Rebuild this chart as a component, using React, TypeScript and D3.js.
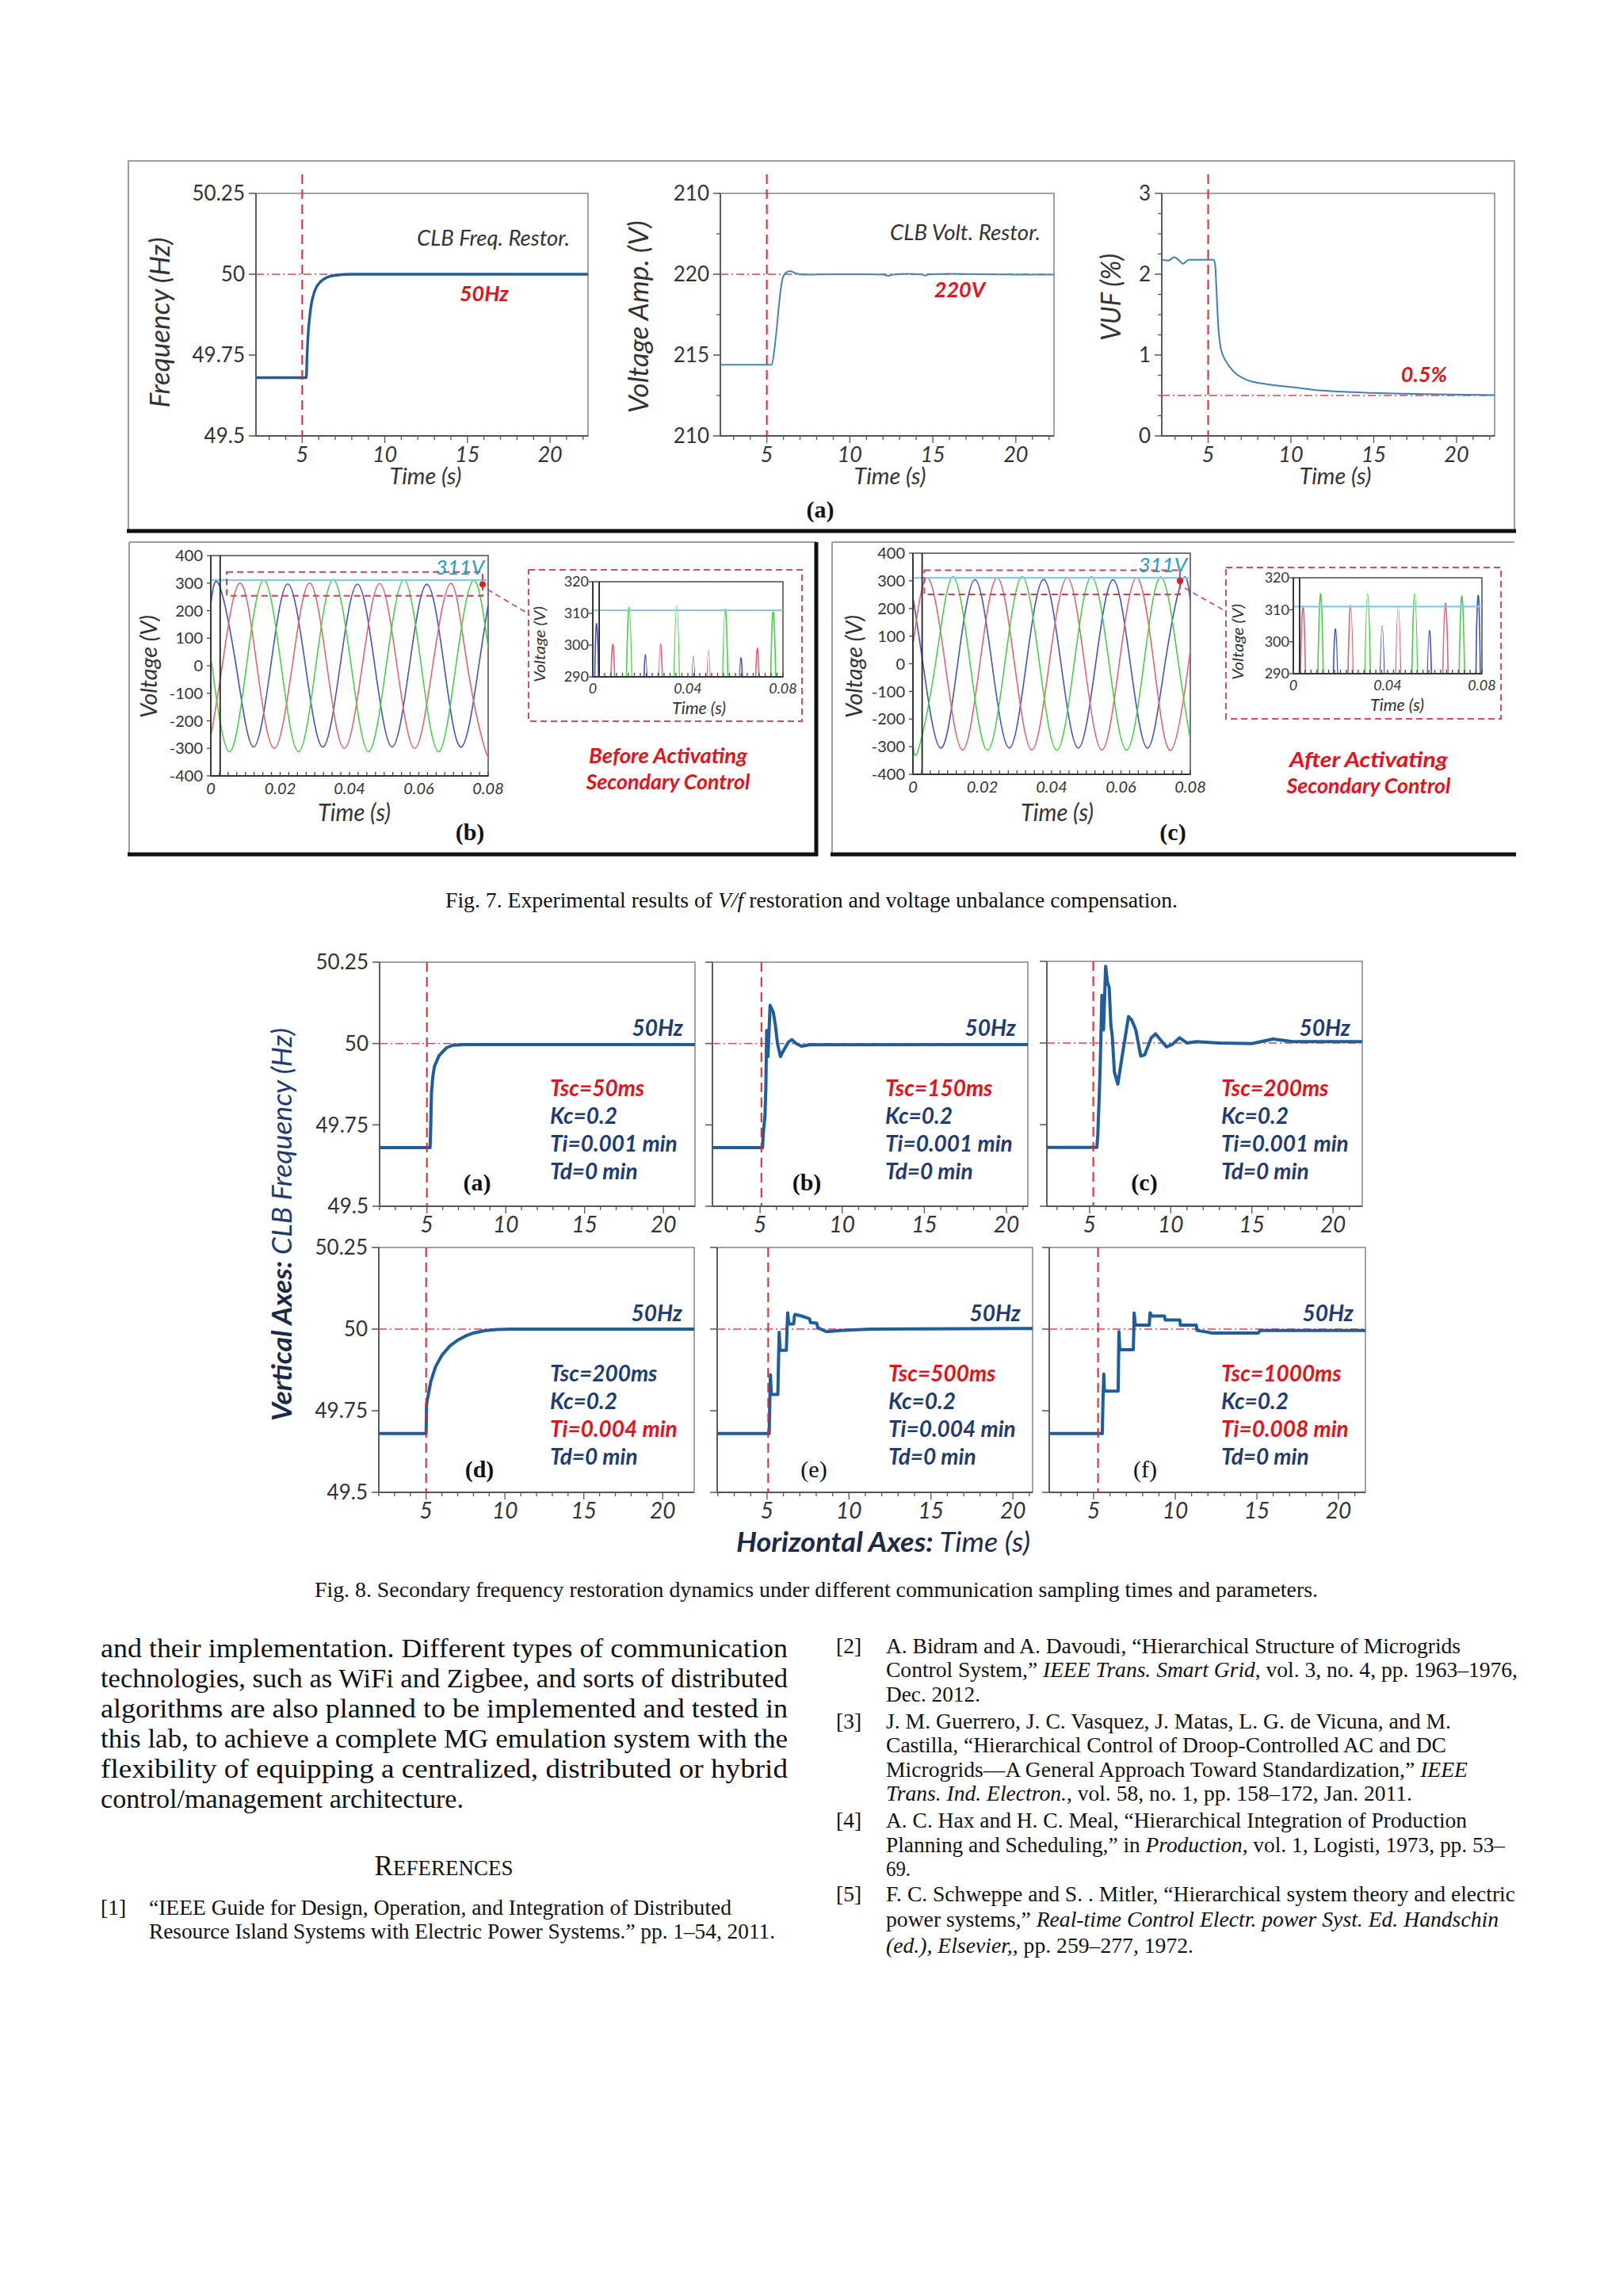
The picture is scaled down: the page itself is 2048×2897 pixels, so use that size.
import React from "react";
import * as d3 from "d3";

type Pt = [number, number];
type Seg = [string, boolean];

const W = 2048;
const H = 2897;
const SANS = "Lato, 'Open Sans', 'DejaVu Sans', sans-serif";
const SERIF = "'Liberation Serif', 'Times New Roman', serif";
const NAVY = "#1f3b73";
const RED = "#e3121b";
const TRACE = "#1f5d9c";
const phaseColors = ["#4153c2", "#e3646f", "#48d048"];

// ---------- Fig. 7(a): restoration traces ----------
const restorTimeTicks = [5, 10, 15, 20];
const freqTicks = [49.5, 49.75, 50, 50.25];
const voltTickValues = [210, 215, 220, 225];
const voltTickLabels = ["210", "215", "220", "210"];
const voltMinor = [212.5, 217.5, 222.5];
const vufTicks = [0, 1, 2, 3];
const vufMinor = [0.25, 0.5, 0.75, 1.25, 1.5, 1.75, 2.25, 2.5, 2.75];

const freqRestor: Pt[] = [
  [2.2, 49.68], [5.25, 49.68], [5.28, 49.73], [5.34, 49.8], [5.49, 49.885], [5.77, 49.95],
  [6.13, 49.978], [6.5, 49.99], [7.05, 49.997], [8, 50], [22.3, 50],
];
const voltRestor: Pt[] = [
  [2.2, 214.4], [5.3, 214.4], [5.45, 215.3], [5.6, 216.7], [5.75, 218.3], [5.9, 219.5],
  [6.1, 220.05], [6.4, 220.2], [6.75, 220.05], [7.2, 219.97], [9, 220], [11.5, 219.99],
  [12, 219.97], [12.3, 219.9], [12.6, 219.98], [13.5, 220.02], [14.3, 219.99], [14.55, 219.92],
  [14.8, 220], [16, 220.02], [18, 220], [20, 219.98], [22.3, 219.98],
];
const vufComp: Pt[] = [
  [2.2, 2.18], [2.6, 2.17], [2.94, 2.21], [3.2, 2.18], [3.47, 2.13], [3.84, 2.18], [5.33, 2.18],
  [5.42, 2.12], [5.51, 1.78], [5.6, 1.39], [5.79, 1.06], [6.06, 0.93], [6.52, 0.8], [7.25, 0.7],
  [8.53, 0.64], [10, 0.605], [11.3, 0.572], [13.1, 0.546], [14.9, 0.533], [16.8, 0.523],
  [18.7, 0.515], [20.5, 0.51], [22.3, 0.505],
];

// ---------- Fig. 7(b)(c): three-phase voltages (extrema and zero crossings) ----------
const waveTimeTicks = [0, 0.02, 0.04, 0.06, 0.08];
const waveVoltTicks = [-400, -300, -200, -100, 0, 100, 200, 300, 400];
const insetVoltTicks = [290, 300, 310, 320];
const insetTimeTicks = [0, 0.04, 0.08];

const beforeBlue: Pt[] = [
  [0, 222], [0.0023, 296], [0.0073, 0], [0.0123, -295], [0.0173, 0], [0.0222, 297], [0.0273, 0],
  [0.0323, -295], [0.0373, 0], [0.0423, 296.5], [0.0473, 0], [0.0523, -295], [0.0573, 0],
  [0.0623, 296], [0.0673, 0], [0.0723, -295], [0.0773, 0], [0.08, 222],
];
const beforeRed: Pt[] = [
  [0, -258], [0.0033, 0], [0.0083, 300], [0.0133, 0], [0.0183, -300], [0.0235, 0], [0.0285, 300.5],
  [0.0335, 0], [0.0385, -300], [0.0437, 0], [0.0487, 298.5], [0.0537, 0], [0.0588, -300],
  [0.064, 0], [0.0693, 299], [0.074, 0], [0.079, -300], [0.08, -298],
];
const beforeGreen: Pt[] = [
  [0, 30], [0.0053, -312], [0.0103, 0], [0.0153, 312], [0.0203, 0], [0.0253, -312], [0.0303, 0],
  [0.0353, 312.5], [0.0405, 0], [0.0455, -312], [0.0506, 0], [0.0557, 311.5], [0.0607, 0],
  [0.0657, -312], [0.0707, 0], [0.0757, 310], [0.08, 65],
];
const afterBlue: Pt[] = [
  [0, 240], [0.0029, 0], [0.0079, -305], [0.0129, 0], [0.0179, 304], [0.0228, 0], [0.0278, -305],
  [0.0327, 0], [0.0377, 305], [0.0427, 0], [0.0477, -305], [0.0527, 0], [0.0577, 303.5],
  [0.0627, 0], [0.0677, -305], [0.0727, 0], [0.0777, 303.5], [0.08, 228],
];
const afterRed: Pt[] = [
  [0, 67], [0.0043, 310.5], [0.0093, 0], [0.0143, -312], [0.0193, 0], [0.0243, 311.5], [0.0293, 0],
  [0.0343, -312], [0.0393, 0], [0.0445, 311], [0.0495, 0], [0.0545, -312], [0.0595, 0],
  [0.0645, 312], [0.0695, 0], [0.0745, -312], [0.0795, 0], [0.08, 49],
];
const afterGreen: Pt[] = [
  [0, -278], [0.0015, -313], [0.0065, 0], [0.0115, 315], [0.0165, 0], [0.0215, -313], [0.0265, 0],
  [0.0315, 315], [0.0365, 0], [0.0415, -313], [0.0465, 0], [0.0515, 315], [0.0566, 0],
  [0.0616, -313], [0.0666, 0], [0.0716, 314], [0.0766, 0], [0.08, -275],
];

// ---------- Fig. 8: secondary frequency restoration ----------
const f8a: Pt[] = [
  [2, 49.68], [5.2, 49.68], [5.23, 49.72], [5.29, 49.85], [5.38, 49.9], [5.48, 49.93],
  [5.77, 49.963], [6.25, 49.987], [6.64, 49.995], [7.5, 49.997], [22, 49.997],
];
const f8b: Pt[] = [
  [2.1, 49.68], [5.15, 49.68], [5.19, 49.72], [5.3, 49.78], [5.35, 49.86], [5.4, 50.04], [5.48, 49.96],
  [5.61, 50.117], [5.8, 50.097], [5.93, 50.057], [6.06, 50.0], [6.24, 49.96], [6.4, 49.976],
  [6.72, 50.004], [6.93, 50.012], [7.2, 50.0], [7.51, 49.992], [8.02, 49.996], [21.3, 49.997],
];
const f8c: Pt[] = [
  [2.37, 49.68], [5.45, 49.68], [5.51, 49.72], [5.59, 49.83], [5.65, 49.92], [5.76, 50.146],
  [5.86, 50.04], [5.99, 50.235], [6.1, 50.185], [6.21, 50.17], [6.31, 50.057], [6.4, 50.02],
  [6.53, 49.911], [6.74, 49.874], [7.06, 49.976], [7.4, 50.081], [7.6, 50.07], [7.85, 50.04],
  [8.15, 49.96], [8.4, 49.964], [8.8, 50.016], [9.07, 50.028], [9.4, 50.008], [9.74, 49.988],
  [10.1, 49.996], [10.54, 50.016], [11.0, 50.0], [11.6, 50.004], [13, 50.0], [15, 49.998],
  [16.3, 50.012], [17.5, 50.004], [21.8, 50.004],
];
const f8d: Pt[] = [
  [2, 49.68], [5.0, 49.68], [5.03, 49.77], [5.1, 49.79], [5.3, 49.84], [5.6, 49.885], [6, 49.92],
  [6.5, 49.948], [7, 49.966], [7.5, 49.979], [8, 49.988], [8.7, 49.995], [9.5, 49.999],
  [10.5, 50.0], [22, 50.0],
];
const f8e: Pt[] = [
  [1.96, 49.68], [5.13, 49.68], [5.17, 49.78], [5.21, 49.86], [5.26, 49.8], [5.66, 49.8],
  [5.7, 49.9], [5.74, 49.99], [5.8, 49.935], [6.18, 49.935], [6.22, 50.0], [6.26, 50.05],
  [6.33, 50.016], [6.63, 50.016], [6.67, 50.04], [6.71, 50.045], [7.11, 50.04], [7.59, 50.032],
  [7.65, 50.02], [8.03, 50.018], [8.1, 50.004], [8.63, 49.992], [9.48, 49.996], [11.33, 50.0],
  [21.2, 50.002],
];
const f8f: Pt[] = [
  [2.28, 49.68], [5.53, 49.68], [5.57, 49.78], [5.62, 49.862], [5.66, 49.81], [6.5, 49.81],
  [6.53, 49.92], [6.55, 49.992], [6.6, 49.937], [7.43, 49.937], [7.46, 50.0], [7.48, 50.049],
  [7.56, 50.012], [8.41, 50.012], [8.44, 50.04], [8.46, 50.05], [8.55, 50.04], [9.34, 50.04],
  [9.38, 50.028], [10.28, 50.028], [10.31, 50.012], [11.29, 50.012], [11.33, 49.996],
  [12.28, 49.988], [15.08, 49.988], [15.2, 49.996], [21.66, 49.996],
];
const f8Series = [f8a, f8b, f8c, f8d, f8e, f8f];
const f8XDomains: [number, number][] = [[2, 22], [2.1, 21.3], [2.37, 21.8], [2, 22], [1.96, 21.2], [2.28, 21.65]];
const f8Activation = [5.0, 5.08, 5.23, 5.0, 5.07, 5.27];
const f8Tags = ["(a)", "(b)", "(c)", "(d)", "(e)", "(f)"];
const f8Tsc = ["Tsc=50ms", "Tsc=150ms", "Tsc=200ms", "Tsc=200ms", "Tsc=500ms", "Tsc=1000ms"];
const f8Ti = ["Ti=0.001 min", "Ti=0.001 min", "Ti=0.001 min", "Ti=0.004 min", "Ti=0.004 min", "Ti=0.008 min"];
const f8TscRed = [true, true, true, false, true, true];
const f8TiRed = [false, false, false, true, false, true];

// ---------- page text ----------
const bodyLines = [
  "and their implementation. Different types of communication",
  "technologies, such as WiFi and Zigbee, and sorts of distributed",
  "algorithms are also planned to be implemented and tested in",
  "this lab, to achieve a complete MG emulation system with the",
  "flexibility of equipping a centralized, distributed or hybrid",
  "control/management architecture.",
];
const ref1Lines: Seg[][] = [
  [["“IEEE Guide for Design, Operation, and Integration of Distributed", false]],
  [["Resource Island Systems with Electric Power Systems.” pp. 1–54, 2011.", false]],
];
const refTags = ["[2]", "[3]", "[4]", "[5]"];
const refRight: Seg[][][] = [
  [
    [["A. Bidram and A. Davoudi, “Hierarchical Structure of Microgrids", false]],
    [["Control System,” ", false], ["IEEE Trans. Smart Grid", true], [", vol. 3, no. 4, pp. 1963–1976,", false]],
    [["Dec. 2012.", false]],
  ],
  [
    [["J. M. Guerrero, J. C. Vasquez, J. Matas, L. G. de Vicuna, and M.", false]],
    [["Castilla, “Hierarchical Control of Droop-Controlled AC and DC", false]],
    [["Microgrids—A General Approach Toward Standardization,” ", false], ["IEEE", true]],
    [["Trans. Ind. Electron.", true], [", vol. 58, no. 1, pp. 158–172, Jan. 2011.", false]],
  ],
  [
    [["A. C. Hax and H. C. Meal, “Hierarchical Integration of Production", false]],
    [["Planning and Scheduling,” in ", false], ["Production", true], [", vol. 1, Logisti, 1973, pp. 53–", false]],
    [["69.", false]],
  ],
  [
    [["F. C. Schweppe and S. . Mitler, “Hierarchical system theory and electric", false]],
    [["power systems,” ", false], ["Real-time Control Electr. power Syst. Ed. Handschin", true]],
    [["(ed.), Elsevier,", true], [", pp. 259–277, 1972.", false]],
  ],
];

type Box = [number, number, number, number];

function TimePanel(p: {
  id: string;
  box: Box;
  xDomain: [number, number];
  yDomain: [number, number];
  data: Pt[];
  yTicks: number[];
  yLabels?: string[];
  yMinor?: number[];
  xTicks: number[];
  refY: number;
  act: number;
  actTop?: number;
  stroke: string;
  width: number;
  curve?: d3.CurveFactory;
  yFont: number;
  xFont: number;
}) {
  const [l, t, r, b] = p.box;
  const x = d3.scaleLinear().domain(p.xDomain).range([l, r]);
  const y = d3.scaleLinear().domain(p.yDomain).range([b, t]);
  const line = d3
    .line<Pt>()
    .x((d) => x(d[0]))
    .y((d) => y(d[1]))
    .curve(p.curve ?? d3.curveLinear);
  const minor = d3.range(Math.ceil(p.xDomain[0]), p.xDomain[1], 1);
  return (
    <g>
      <defs>
        <clipPath id={p.id}>
          <rect x={l} y={t - 6} width={r - l} height={b - t + 12} />
        </clipPath>
      </defs>
      <rect x={l} y={t} width={r - l} height={b - t} fill="#fff" stroke="#8c8c8c" strokeWidth={1.6} />
      <line x1={l} x2={l} y1={t} y2={b} stroke="#555" strokeWidth={1.8} />
      <line x1={l} x2={r} y1={b} y2={b} stroke="#555" strokeWidth={1.8} />
      <line x1={l} x2={r} y1={y(p.refY)} y2={y(p.refY)} stroke="#e4434c" strokeWidth={1.4} strokeDasharray="10 4 2 4" />
      <path
        d={line(p.data) ?? ""}
        fill="none"
        stroke={p.stroke}
        strokeWidth={p.width}
        strokeLinejoin="round"
        clipPath={`url(#${p.id})`}
      />
      <line x1={x(p.act)} x2={x(p.act)} y1={p.actTop ?? t} y2={b} stroke="#e3242b" strokeWidth={2} strokeDasharray="12 7" />
      {p.yTicks.map((v) => (
        <line key={"yt" + v} x1={l - 9} x2={l} y1={y(v)} y2={y(v)} stroke="#555" strokeWidth={1.5} />
      ))}
      {(p.yMinor ?? []).map((v) => (
        <line key={"ym" + v} x1={l - 5} x2={l} y1={y(v)} y2={y(v)} stroke="#555" strokeWidth={1.3} />
      ))}
      {minor.map((v) => (
        <line key={"xm" + v} x1={x(v)} x2={x(v)} y1={b} y2={b + (v % 5 === 0 ? 9 : 5)} stroke="#555" strokeWidth={1.3} />
      ))}
      {p.yLabels &&
        p.yTicks.map((v, i) => (
          <text key={"yl" + v} x={l - 14} y={y(v) + p.yFont * 0.36} textAnchor="end" fontSize={p.yFont} fill="#333">
            {p.yLabels![i]}
          </text>
        ))}
      {p.xTicks.map((v) => (
        <text key={"xl" + v} x={x(v)} y={b + 33} textAnchor="middle" fontStyle="italic" fontSize={p.xFont} fill="#333">
          {v}
        </text>
      ))}
    </g>
  );
}

function WavePlot(p: {
  id: string;
  box: Box;
  yDomain: [number, number];
  series: Pt[][];
  yTicks: number[];
  xTicks: number[];
  cursor: number;
  nominal: number;
  font: number;
  yGap: number;
  xGap: number;
  children?: (x: d3.ScaleLinear<number, number>, y: d3.ScaleLinear<number, number>) => React.ReactNode;
}) {
  const [l, t, r, b] = p.box;
  const x = d3.scaleLinear().domain([0, 0.08]).range([l, r]);
  const y = d3.scaleLinear().domain(p.yDomain).range([b, t]);
  const line = d3
    .line<Pt>()
    .x((d) => x(d[0]))
    .y((d) => y(d[1]))
    .curve(d3.curveNatural);
  const minor = d3.range(0, 0.08 + 1e-9, 0.0025);
  return (
    <g>
      <defs>
        <clipPath id={p.id}>
          <rect x={l} y={t} width={r - l} height={b - t} />
        </clipPath>
      </defs>
      <rect x={l} y={t} width={r - l} height={b - t} fill="#fff" stroke="#555" strokeWidth={1.6} />
      <g clipPath={`url(#${p.id})`}>
        {p.series.map((s, i) => (
          <path key={i} d={line(s) ?? ""} fill="none" stroke={phaseColors[i]} strokeWidth={1.6} />
        ))}
        <line x1={l} x2={r} y1={y(p.nominal)} y2={y(p.nominal)} stroke="#86cbe6" strokeWidth={2.2} />
      </g>
      <line x1={x(p.cursor)} x2={x(p.cursor)} y1={t} y2={b} stroke="#222" strokeWidth={1.8} />
      <line x1={l} x2={l} y1={t} y2={b} stroke="#333" strokeWidth={1.8} />
      <line x1={l} x2={r} y1={b} y2={b} stroke="#333" strokeWidth={1.8} />
      {p.yTicks.map((v) => (
        <line key={"yt" + v} x1={l - 5} x2={l} y1={y(v)} y2={y(v)} stroke="#444" strokeWidth={1.3} />
      ))}
      {minor.map((v, i) => (
        <line key={"xm" + i} x1={x(v)} x2={x(v)} y1={b} y2={b - 5} stroke="#444" strokeWidth={1.3} />
      ))}
      {p.yTicks.map((v) => (
        <text key={"yl" + v} x={l - p.yGap} y={y(v) + p.font * 0.36} textAnchor="end" fontSize={p.font} fill="#333">
          {v}
        </text>
      ))}
      {p.xTicks.map((v) => (
        <text key={"xl" + v} x={x(v)} y={b + p.xGap} textAnchor="middle" fontStyle="italic" fontSize={p.font} fill="#333">
          {v}
        </text>
      ))}
      {p.children && p.children(x, y)}
    </g>
  );
}

function RotLabel(p: { x: number; y: number; size: number; children: React.ReactNode; len?: number; fill?: string }) {
  return (
    <text
      transform={`translate(${p.x},${p.y}) rotate(-90)`}
      textAnchor="middle"
      dominantBaseline="central"
      fontSize={p.size}
      fontStyle="italic"
      fill={p.fill ?? "#333"}
      textLength={p.len}
      lengthAdjust="spacingAndGlyphs"
    >
      {p.children}
    </text>
  );
}

function Fig7a() {
  return (
    <g>
      <TimePanel id="c71" box={[323, 244, 742, 550]} xDomain={[2.2, 22.3]} yDomain={[49.5, 50.25]} data={freqRestor}
        yTicks={freqTicks} yLabels={freqTicks.map(String)} xTicks={restorTimeTicks} refY={50} act={5} actTop={220}
        stroke={TRACE} width={3.4} curve={d3.curveMonotoneX} yFont={26} xFont={27} />
      <TimePanel id="c72" box={[909, 244, 1330, 550]} xDomain={[2.2, 22.3]} yDomain={[210, 225]} data={voltRestor}
        yTicks={voltTickValues} yLabels={voltTickLabels} yMinor={voltMinor} xTicks={restorTimeTicks} refY={220} act={5}
        actTop={220} stroke="#4784bb" width={2} curve={d3.curveMonotoneX} yFont={26} xFont={27} />
      <TimePanel id="c73" box={[1466, 244, 1886, 550]} xDomain={[2.2, 22.3]} yDomain={[0, 3]} data={vufComp}
        yTicks={vufTicks} yLabels={vufTicks.map(String)} yMinor={vufMinor} xTicks={restorTimeTicks} refY={0.5} act={5}
        actTop={220} stroke="#3f7fb8" width={2} curve={d3.curveMonotoneX} yFont={26} xFont={27} />
      <RotLabel x={200} y={407} size={35} len={215}>Frequency (Hz)</RotLabel>
      <RotLabel x={804} y={400} size={35} len={243}>Voltage Amp. (V)</RotLabel>
      <RotLabel x={1400} y={375} size={35} len={110}>VUF (%)</RotLabel>
      {[537, 1123, 1685].map((cx) => (
        <text key={cx} x={cx} y={611} textAnchor="middle" fontStyle="italic" fontSize={28} fill="#333"
          textLength={91} lengthAdjust="spacingAndGlyphs">Time (s)</text>
      ))}
      <text x={719} y={310} textAnchor="end" fontStyle="italic" fontSize={27} fill="#333" textLength={193}
        lengthAdjust="spacingAndGlyphs">CLB Freq. Restor.</text>
      <text x={1313} y={303} textAnchor="end" fontStyle="italic" fontSize={27} fill="#333" textLength={190}
        lengthAdjust="spacingAndGlyphs">CLB Volt. Restor.</text>
      <text x={611} y={380} textAnchor="middle" fontStyle="italic" fontWeight={700} fontSize={27} fill={RED}>50Hz</text>
      <text x={1211} y={375} textAnchor="middle" fontStyle="italic" fontWeight={700} fontSize={27} fill={RED}>220V</text>
      <text x={1797} y={482} textAnchor="middle" fontStyle="italic" fontWeight={700} fontSize={27} fill={RED}>0.5%</text>
      <text x={1035} y={653} textAnchor="middle" fontFamily={SERIF} fontWeight={700} fontSize={30} fill="#111">(a)</text>
    </g>
  );
}

function Zoomed(p: {
  id: string; main: Box; inset: Box; frame: Box; series: Pt[][]; cursor: number;
  rectT: [number, number]; rectV: [number, number]; dot: Pt; tag: string; tagX: number;
  yLabelX: number; timeX: number; insetYLabel: Pt; insetTimeX: number; caption: string[]; capX: number; capY: number;
  nomEnd: number; nomY: number;
}) {
  const [fl, ft, fr, fb] = p.frame;
  return (
    <g>
      <WavePlot id={p.id + "m"} box={p.main} yDomain={[-400, 400]} series={p.series} yTicks={waveVoltTicks}
        xTicks={waveTimeTicks} cursor={p.cursor} nominal={311} font={20} yGap={10} xGap={23}>
        {(x, y) => (
          <g>
            <rect x={x(p.rectT[0])} y={y(p.rectV[1])} width={x(p.rectT[1]) - x(p.rectT[0])} height={y(p.rectV[0]) - y(p.rectV[1])}
              fill="none" stroke="#c94450" strokeWidth={2} strokeDasharray="8 5" />
            <circle cx={x(p.dot[0])} cy={y(p.dot[1])} r={4} fill="#e02020" />
            <line x1={x(p.rectT[1]) + 6} y1={y(p.rectV[0]) - 8} x2={fl} y2={(ft + fb) / 2 - 40}
              stroke="#c94450" strokeWidth={1.6} strokeDasharray="7 5" />
          </g>
        )}
      </WavePlot>
      <text x={p.nomEnd} y={p.nomY} textAnchor="end" fontStyle="italic" fontSize={26} fill="#2a9cc4">311V</text>
      <rect x={fl} y={ft} width={fr - fl} height={fb - ft} fill="none" stroke="#d4505a" strokeWidth={2} strokeDasharray="8 5" />
      <WavePlot id={p.id + "i"} box={p.inset} yDomain={[290, 320]} series={p.series} yTicks={insetVoltTicks}
        xTicks={insetTimeTicks} cursor={p.cursor} nominal={311} font={18} yGap={5} xGap={21} />
      <RotLabel x={p.yLabelX} y={841} size={29} len={130}>Voltage (V)</RotLabel>
      <RotLabel x={p.insetYLabel[0]} y={p.insetYLabel[1]} size={20} len={96}>Voltage (V)</RotLabel>
      <text x={p.timeX} y={1036} textAnchor="middle" fontStyle="italic" fontSize={31} fill="#333" textLength={92} lengthAdjust="spacingAndGlyphs">Time (s)</text>
      <text x={p.insetTimeX} y={p.inset[3] + 47} textAnchor="middle" fontStyle="italic" fontSize={21} fill="#333" textLength={68} lengthAdjust="spacingAndGlyphs">Time (s)</text>
      <text x={p.tagX} y={1060} textAnchor="middle" fontFamily={SERIF} fontWeight={700} fontSize={30} fill="#111">{p.tag}</text>
      {p.caption.map((c, i) => (
        <text key={c} x={p.capX} y={p.capY + i * 33} textAnchor="middle" fontStyle="italic" fontWeight={700} fontSize={27}
          fill={RED} textLength={i === 0 ? 200 : 207} lengthAdjust="spacingAndGlyphs">{c}</text>
      ))}
    </g>
  );
}

function Fig7() {
  return (
    <g>
      <rect x={162} y={203} width={1749} height={467} fill="none" stroke="#9d9d9d" strokeWidth={2} />
      <line x1={160} x2={1913} y1={670} y2={670} stroke="#111" strokeWidth={5} />
      <line x1={163} x2={1030} y1={684} y2={684} stroke="#9d9d9d" strokeWidth={2} />
      <line x1={163} x2={163} y1={684} y2={1078} stroke="#9d9d9d" strokeWidth={2} />
      <line x1={1030} x2={1030} y1={684} y2={1080} stroke="#111" strokeWidth={5} />
      <line x1={161} x2={1032} y1={1078} y2={1078} stroke="#111" strokeWidth={5} />
      <line x1={1050} x2={1911} y1={684} y2={684} stroke="#9d9d9d" strokeWidth={2} />
      <line x1={1050} x2={1050} y1={684} y2={1078} stroke="#9d9d9d" strokeWidth={2} />
      <line x1={1048} x2={1913} y1={1078} y2={1078} stroke="#111" strokeWidth={5} />
      <Fig7a />
      <Zoomed id="zb" main={[266, 701, 616, 979]} inset={[748, 734, 988, 854]} frame={[667, 719, 1012, 910]}
        series={[beforeBlue, beforeRed, beforeGreen]} cursor={0.0027} rectT={[0.0046, 0.0784]} rectV={[254, 340]}
        dot={[0.0784, 296]} tag="(b)" tagX={593} yLabelX={186} timeX={447} insetYLabel={[680, 813]} insetTimeX={882}
        caption={["Before Activating", "Secondary Control"]} capX={843} capY={963} nomEnd={611} nomY={725} />
      <Zoomed id="zc" main={[1152, 698, 1502, 977]} inset={[1632, 729, 1870, 850]} frame={[1547, 716, 1894, 907]}
        series={[afterBlue, afterRed, afterGreen]} cursor={0.00265} rectT={[0.0033, 0.077]} rectV={[251, 338]}
        dot={[0.077, 300]} tag="(c)" tagX={1480} yLabelX={1076} timeX={1334} insetYLabel={[1561, 810]} insetTimeX={1763}
        caption={["After Activating", "Secondary Control"]} capX={1727} capY={968} nomEnd={1498} nomY={722} />
      <text x={562} y={1145} fontFamily={SERIF} fontSize={27} fill="#111" textLength={924} lengthAdjust="spacingAndGlyphs">
        Fig. 7.  Experimental results of <tspan fontStyle="italic">V/f</tspan> restoration and voltage unbalance compensation.
      </text>
    </g>
  );
}

function Fig8() {
  const boxes: Box[] = [
    [479, 1214, 877, 1522], [899, 1214, 1297, 1522], [1321, 1213, 1719, 1522],
    [478, 1574, 876, 1883], [905, 1574, 1303, 1883], [1324, 1574, 1723, 1883],
  ];
  const paramX = [694, 1117, 1541, 694, 1121, 1541];
  const tagX = [602, 1018, 1444, 605, 1027, 1445];
  return (
    <g>
      {boxes.map((bx, i) => {
        const row = i < 3 ? 0 : 1;
        const left = i % 3 === 0;
        const base = row === 0 ? 1383 : 1743;
        return (
          <g key={i}>
            <TimePanel id={"c8" + i} box={bx} xDomain={f8XDomains[i]} yDomain={[49.5, 50.25]} data={f8Series[i]}
              yTicks={freqTicks} yLabels={left ? freqTicks.map(String) : undefined} xTicks={restorTimeTicks}
              refY={50} act={f8Activation[i]} stroke={TRACE} width={4} yFont={26} xFont={28} />
            <text x={bx[2] - 15} y={row === 0 ? 1307 : 1667} textAnchor="end" fontStyle="italic" fontWeight={700} fontSize={28} fill={NAVY}>50Hz</text>
            <g fontStyle="italic" fontWeight={700} fontSize={28}>
              <text x={paramX[i]} y={base} fill={f8TscRed[i] ? RED : NAVY}>{f8Tsc[i]}</text>
              <text x={paramX[i]} y={base + 35} fill={NAVY}>Kc=0.2</text>
              <text x={paramX[i]} y={base + 70} fill={f8TiRed[i] ? RED : NAVY}>{f8Ti[i]}</text>
              <text x={paramX[i]} y={base + 105} fill={NAVY}>Td=0 min</text>
            </g>
            <text x={tagX[i]} y={row === 0 ? 1502 : 1864} textAnchor="middle" fontFamily={SERIF}
              fontWeight={i < 4 ? 700 : 400} fontSize={30} fill="#111">{f8Tags[i]}</text>
          </g>
        );
      })}
      <text transform="translate(354,1545) rotate(-90)" textAnchor="middle" dominantBaseline="central" fontSize={35}
        fontStyle="italic" textLength={496} lengthAdjust="spacingAndGlyphs">
        <tspan fontWeight={700} fill="#1b2a4a">Vertical Axes: </tspan>
        <tspan fill={NAVY}>CLB Frequency (Hz)</tspan>
      </text>
      <text x={929} y={1958} fontSize={35} fontStyle="italic" textLength={371} lengthAdjust="spacingAndGlyphs">
        <tspan fontWeight={700} fill="#1b2a4a">Horizontal Axes: </tspan>
        <tspan fill="#1b2a4a">Time (s)</tspan>
      </text>
      <text x={397} y={2015} fontFamily={SERIF} fontSize={27} fill="#111" textLength={1266} lengthAdjust="spacingAndGlyphs">
        Fig. 8.  Secondary frequency restoration dynamics under different communication sampling times and parameters.
      </text>
    </g>
  );
}

function SegText(p: { x: number; y: number; segs: Seg[]; size: number; len?: number }) {
  return (
    <text x={p.x} y={p.y} fontFamily={SERIF} fontSize={p.size} fill="#111" textLength={p.len} lengthAdjust="spacingAndGlyphs">
      {p.segs.map((s, i) => (
        <tspan key={i} fontStyle={s[1] ? "italic" : "normal"}>{s[0]}</tspan>
      ))}
    </text>
  );
}

function PageText() {
  const rightBase = [
    [2086, 2116, 2147],
    [2181, 2211, 2242, 2272],
    [2306, 2337, 2367],
    [2399, 2431, 2464],
  ];
  const rightLen = [
    [725, 797, 119],
    [713, 707, 734, 664],
    [733, 781, 31],
    [794, 773, 388],
  ];
  const leftLen = [735, 790];
  const bodyLen = [867, 867, 867, 867, 867, 458];
  return (
    <g>
      {bodyLines.map((s, i) => (
        <text key={i} x={127} y={2091 + i * 38} fontFamily={SERIF} fontSize={34} fill="#111"
          textLength={bodyLen[i]} lengthAdjust="spacingAndGlyphs">{s}</text>
      ))}
      <text x={560} y={2366} textAnchor="middle" fontFamily={SERIF} fill="#111">
        <tspan fontSize={35}>R</tspan>
        <tspan fontSize={27}>EFERENCES</tspan>
      </text>
      <text x={127} y={2416} fontFamily={SERIF} fontSize={27.5} fill="#111">[1]</text>
      {ref1Lines.map((segs, i) => (
        <SegText key={i} x={188} y={2416 + i * 30} segs={segs} size={27.5} len={leftLen[i]} />
      ))}
      {refRight.map((ref, k) => (
        <g key={k}>
          <text x={1055} y={rightBase[k][0]} fontFamily={SERIF} fontSize={27.5} fill="#111">{refTags[k]}</text>
          {ref.map((segs, i) => (
            <SegText key={i} x={1118} y={rightBase[k][i]} segs={segs} size={27.5} len={rightLen[k][i]} />
          ))}
        </g>
      ))}
    </g>
  );
}

export default function App() {
  return (
    <svg
      width={W}
      height={H}
      viewBox={`0 0 ${W} ${H}`}
      style={{ position: "absolute", left: 0, top: 0, background: "#fff" }}
      fontFamily={SANS}
    >
      <rect width={W} height={H} fill="#fff" />
      <Fig7 />
      <Fig8 />
      <PageText />
    </svg>
  );
}
